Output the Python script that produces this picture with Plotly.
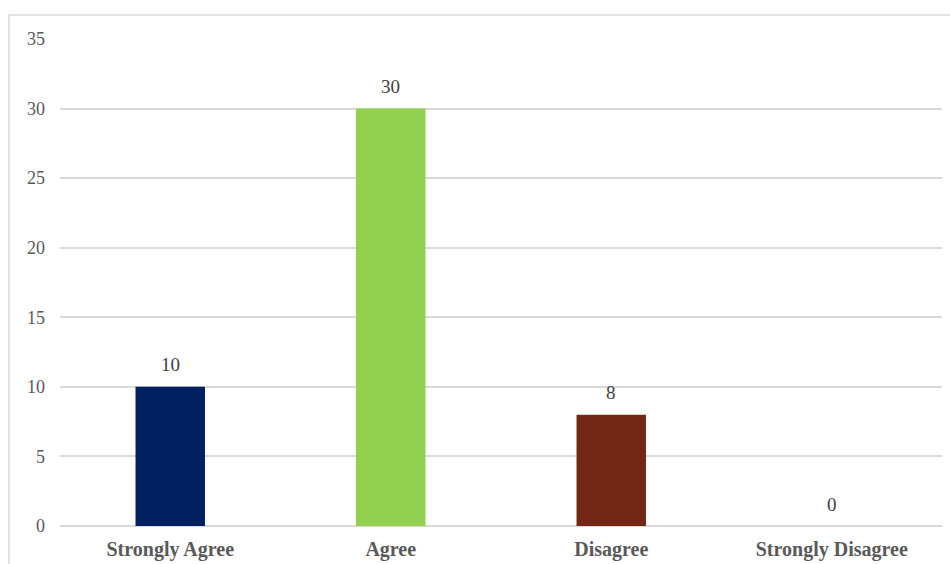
import plotly.graph_objects as go

categories = ["Strongly Agree", "Agree", "Disagree", "Strongly Disagree"]
counts = [10, 30, 8, 0]
bar_colors = ["#002060", "#92D050", "#732816", "#A5A5A5"]
y_ticks = [0, 5, 10, 15, 20, 25, 30, 35]

FONT = "Liberation Serif, Times New Roman, serif"

fig = go.Figure(
    go.Bar(
        x=categories,
        y=counts,
        marker=dict(color=bar_colors, line=dict(width=0)),
        width=0.315,
        hoverinfo="x+y",
    )
)

# value labels above each bar
for cat, val in zip(categories, counts):
    fig.add_annotation(
        x=cat, y=val, text=str(val), showarrow=False,
        yanchor="middle", yshift=22,
        font=dict(family=FONT, size=19, color="#404040"),
    )

# light frame around the chart
fig.add_shape(
    type="rect", xref="paper", yref="paper",
    x0=(9 - 60) / 882, x1=1.2, y0=-0.2, y1=(526 - 15) / 487,
    line=dict(color="#D9D9D9", width=1.5), fillcolor="rgba(0,0,0,0)",
    layer="below",
)

fig.update_layout(
    width=950, height=564,
    margin=dict(l=60, r=8, t=39, b=38, autoexpand=False),
    paper_bgcolor="white", plot_bgcolor="white",
    showlegend=False,
    font=dict(family=FONT, color="#595959"),
    yaxis=dict(
        range=[0, 35], tickvals=y_ticks, automargin=False,
        showgrid=True, gridcolor="#D9D9D9", gridwidth=1.5,
        zeroline=True, zerolinecolor="#D9D9D9", zerolinewidth=1.5,
        showline=False, ticks="", ticklabelstandoff=14,
        tickfont=dict(family=FONT, size=18, color="#595959"),
    ),
    xaxis=dict(
        showgrid=False, showline=False, ticks="", ticklabelstandoff=9,
        automargin=False,
        tickfont=dict(family=FONT, size=20, color="#595959"),
        tickvals=categories,
        ticktext=[f"<b>{c}</b>" for c in categories],
    ),
)

fig.write_html("out.html")
